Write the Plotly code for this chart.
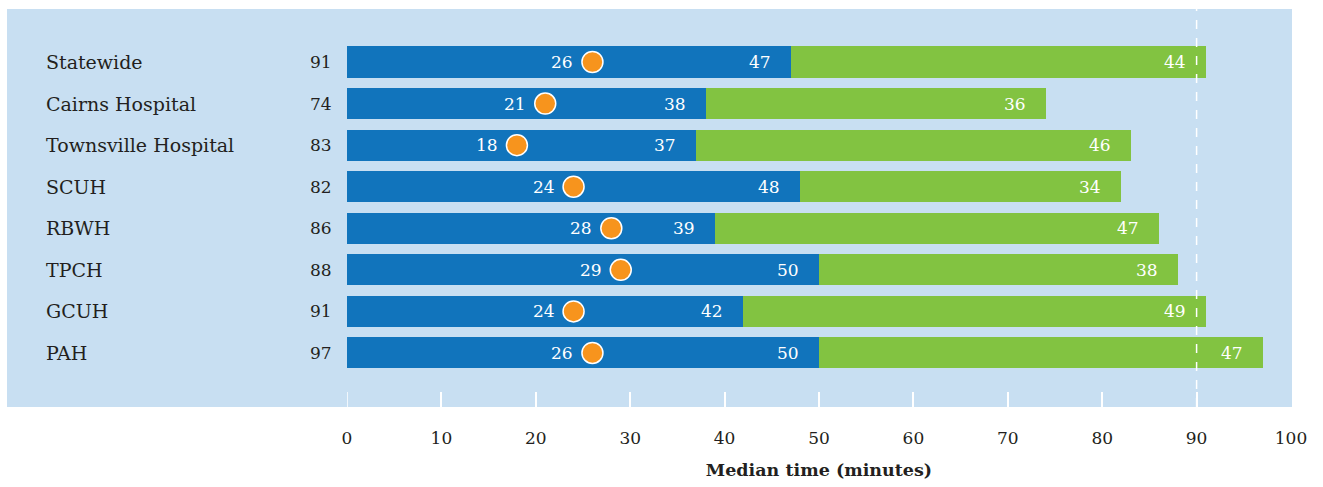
import plotly.graph_objects as go

categories = ["Statewide", "Cairns Hospital", "Townsville Hospital", "SCUH", "RBWH", "TPCH", "GCUH", "PAH"]
totals = [91, 74, 83, 82, 86, 88, 91, 97]
segment1 = [47, 38, 37, 48, 39, 50, 42, 50]
segment2 = [44, 36, 46, 34, 47, 38, 49, 47]
markers = [26, 21, 18, 24, 28, 29, 24, 26]
x_ticks = [0, 10, 20, 30, 40, 50, 60, 70, 80, 90, 100]
target = 90

BLUE = "#1174BC"
GREEN = "#82C341"
ORANGE = "#F7941D"
PANEL = "#C8DFF2"
TEXT = "#231F20"
FONT = "DejaVu Serif"

W, H = 1323, 487
L, R, T, B = 347, 32, 9, 80
pw = W - L - R
ph = H - T - B
TICKLEN = 15

fig = go.Figure()
fig.add_trace(go.Bar(y=categories, x=segment1, orientation="h", marker=dict(color=BLUE, line=dict(width=0)),
                     hoverinfo="x"))
fig.add_trace(go.Bar(y=categories, x=segment2, base=segment1, orientation="h",
                     marker=dict(color=GREEN, line=dict(width=0)), hoverinfo="x"))
fig.add_trace(go.Scatter(y=categories, x=markers, mode="markers",
                         marker=dict(color=ORANGE, size=21, line=dict(color="white", width=1.5))))

ann = []
for i, c in enumerate(categories):
    ann.append(dict(x=(44 - L) / pw, xref="paper", y=c, yref="y", text=c, showarrow=False,
                    xanchor="left", font=dict(size=19, color=TEXT, family=FONT)))
    ann.append(dict(x=(334 - L) / pw, xref="paper", y=c, yref="y", text=str(totals[i]), showarrow=False,
                    xanchor="right", font=dict(size=17, color=TEXT, family=FONT)))
    ann.append(dict(x=segment1[i], y=c, text=str(segment1[i]), showarrow=False, xanchor="right", xshift=-18,
                    font=dict(size=17, color="white", family=FONT)))
    ann.append(dict(x=segment1[i] + segment2[i], y=c, text=str(segment2[i]), showarrow=False, xanchor="right",
                    xshift=-18, font=dict(size=17, color="white", family=FONT)))
    ann.append(dict(x=markers[i], y=c, text=str(markers[i]), showarrow=False, xanchor="right", xshift=-17,
                    font=dict(size=17, color="white", family=FONT)))

shapes = [
    dict(type="rect", xref="paper", yref="paper", x0=(7 - L) / pw, x1=(1292 - L) / pw, y0=0, y1=1,
         fillcolor=PANEL, line=dict(width=0), layer="below"),
    dict(type="line", xref="x", yref="paper", x0=target, x1=target, y0=0, y1=1,
         line=dict(color="white", width=1.5, dash="dash"), layer="above"),
    # tick at the axis origin (plotly drops the edge tick)
    dict(type="line", xref="x", yref="paper", x0=x_ticks[0], x1=x_ticks[0], y0=0, y1=TICKLEN / ph,
         line=dict(color="white", width=1.5), layer="above"),
]

fig.update_layout(
    width=W, height=H,
    margin=dict(l=L, r=R, t=T, b=B),
    barmode="stack", bargap=0.254,
    showlegend=False,
    paper_bgcolor="white", plot_bgcolor="rgba(0,0,0,0)",
    annotations=ann, shapes=shapes,
    font=dict(family=FONT, color=TEXT, size=17),
    xaxis=dict(range=[0, 100], tickvals=x_ticks, ticks="inside", ticklen=TICKLEN, tickcolor="white", tickwidth=1.5,
               showgrid=False, zeroline=False, showline=False, tickfont=dict(size=17, color=TEXT, family=FONT),
               ticklabelstandoff=19,
               title=dict(text="<b>Median time (minutes)</b>", font=dict(size=17.5, color=TEXT, family=FONT),
                          standoff=16)),
    yaxis=dict(categoryorder="array", categoryarray=categories, range=[8.3, -1.275], showticklabels=False,
               showgrid=False, zeroline=False, showline=False, ticks=""),
)

fig.write_html("out.html")
